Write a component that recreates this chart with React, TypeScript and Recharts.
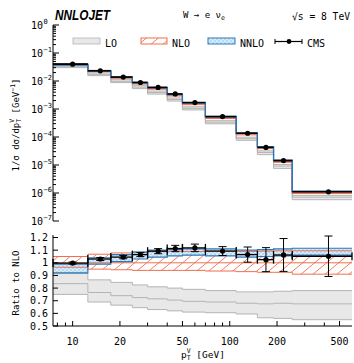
import React from "react";
import {
  ComposedChart,
  Area,
  Line,
  Scatter,
  ErrorBar,
  XAxis,
  YAxis,
} from "recharts";

const binEdges = [7.5, 12.5, 17.5, 24, 30, 40, 50, 70, 110, 150, 190, 250, 600];
const binCenters = [10, 15, 21, 27, 35, 45, 60, 90, 130, 170, 220, 425];

// NLO prediction, 1/σ dσ/dpT [GeV^-1]
const nloDist = [0.04, 0.0225, 0.0132, 0.0083, 0.0054, 0.0031, 0.00152, 0.00049, 0.000128, 0.0000415, 0.0000135, 1.05e-6];

// ratios to NLO
const loLow = [0.75, 0.69, 0.665, 0.645, 0.63, 0.62, 0.61, 0.605, 0.595, 0.565, 0.56, 0.55];
const loMid = [0.835, 0.765, 0.74, 0.725, 0.715, 0.705, 0.695, 0.69, 0.68, 0.675, 0.68, 0.675];
const loHigh = [0.915, 0.865, 0.845, 0.825, 0.81, 0.8, 0.79, 0.78, 0.77, 0.77, 0.775, 0.78];
const nloLow = [0.965, 0.95, 0.945, 0.94, 0.94, 0.94, 0.94, 0.935, 0.93, 0.925, 0.925, 0.91];
const nloHigh = [1.05, 1.068, 1.078, 1.085, 1.088, 1.09, 1.09, 1.09, 1.09, 1.092, 1.095, 1.095];
const nnloLow = [0.92, 0.99, 1.01, 1.03, 1.045, 1.055, 1.06, 1.055, 1.045, 1.05, 1.055, 1.06];
const nnloHigh = [0.99, 1.04, 1.065, 1.085, 1.1, 1.105, 1.11, 1.11, 1.1, 1.105, 1.11, 1.115];
const cmsRatio = [0.998, 1.03, 1.045, 1.065, 1.092, 1.113, 1.118, 1.093, 1.065, 1.025, 1.062, 1.052];
const cmsErr = [0.008, 0.012, 0.013, 0.016, 0.02, 0.025, 0.03, 0.035, 0.06, 0.095, 0.13, 0.16];

const xTicks = [8, 9, 10, 20, 30, 40, 50, 60, 70, 80, 90, 100, 200, 300, 400, 500];
const xLabels = [10, 20, 50, 100, 200, 500];
const yDecades = [1e-7, 1e-6, 1e-5, 1e-4, 1e-3, 1e-2, 1e-1, 1];
const ratioTicks = [0.5, 0.6, 0.7, 0.8, 0.9, 1, 1.1, 1.2];

const yLogTicks = yDecades.flatMap((d, i) =>
  i === yDecades.length - 1 ? [d] : [1, 2, 3, 4, 5, 6, 7, 8, 9].map((m) => m * d)
);

const MONO = "'DejaVu Sans Mono', monospace";
const ORANGE = "#ef6e4e";
const BLUE = "#2a78b8";
const GREY = "#b4b4b4";

const last = binCenters.length - 1;

const topRows = binEdges.map((x, i) => {
  const k = Math.min(i, last);
  const n = nloDist[k];
  return {
    x,
    loBand: [n * loLow[k], n * loHigh[k]],
    loLo: n * loLow[k],
    loMid: n * loMid[k],
    loHi: n * loHigh[k],
    nloBand: [n * nloLow[k], n * nloHigh[k]],
    nloLo: n * nloLow[k],
    nloMid: n,
    nloHi: n * nloHigh[k],
    nnloBand: [n * nnloLow[k], n * nnloHigh[k]],
    nnloLo: n * nnloLow[k],
    nnloHi: n * nnloHigh[k],
  };
});

const ratioRows = binEdges.map((x, i) => {
  const k = Math.min(i, last);
  return {
    x,
    loBand: [loLow[k], loHigh[k]],
    loLo: loLow[k],
    loMid: loMid[k],
    loHi: loHigh[k],
    nloBand: [nloLow[k], nloHigh[k]],
    nloLo: nloLow[k],
    nloMid: 1,
    nloHi: nloHigh[k],
    nnloBand: [nnloLow[k], nnloHigh[k]],
    nnloLo: nnloLow[k],
    nnloHi: nnloHigh[k],
  };
});

const topPoints = binCenters.map((c, i) => ({
  x: c,
  y: nloDist[i] * cmsRatio[i],
  xErr: [c - binEdges[i], binEdges[i + 1] - c],
}));

const ratioPoints = binCenters.map((c, i) => ({
  x: c,
  y: cmsRatio[i],
  yErr: cmsErr[i],
  xErr: [c - binEdges[i], binEdges[i + 1] - c],
}));

const isDecade = (v: number) => Math.abs(Math.log10(v) - Math.round(Math.log10(v))) < 1e-6;

function stepLine(key: string, color: string, w: number) {
  return (
    <Line
      key={key}
      xAxisId="b"
      yAxisId="l"
      dataKey={key}
      type="stepAfter"
      stroke={color}
      strokeWidth={w}
      dot={false}
      activeDot={false}
      isAnimationActive={false}
    />
  );
}

function bandArea(key: string, fill: string) {
  return (
    <Area
      key={key}
      xAxisId="b"
      yAxisId="l"
      dataKey={key}
      type="stepAfter"
      stroke="none"
      fill={fill}
      fillOpacity={1}
      dot={false}
      activeDot={false}
      isAnimationActive={false}
    />
  );
}

function series() {
  return [
    bandArea("loBand", "#e8e8e8"),
    stepLine("loLo", GREY, 1),
    stepLine("loMid", GREY, 1),
    stepLine("loHi", GREY, 1),
    bandArea("nloBand", "url(#hatchNLO)"),
    stepLine("nloLo", ORANGE, 1),
    stepLine("nloMid", ORANGE, 1),
    stepLine("nloHi", ORANGE, 1),
    bandArea("nnloBand", "url(#dotsNNLO)"),
    stepLine("nnloLo", BLUE, 1.2),
    stepLine("nnloHi", BLUE, 1.2),
  ];
}

const dot = (p: any) => <circle cx={p.cx} cy={p.cy} r={2.6} fill="#000" />;

// plot frames (pixel positions inside each chart svg)
const TOP = { l: 53, r: 352, t: 25, b: 221 };
const RAT = { l: 53, r: 352, t: 10, b: 101 };

const xTickBottom = (frame: typeof TOP, labels: boolean) => (p: any) => {
  const v = p.payload.value;
  const major = xLabels.includes(v);
  return (
    <g>
      <line x1={p.x} x2={p.x} y1={frame.b} y2={frame.b - (major ? 5 : 3.5)} stroke="#000" />
      {labels && major ? (
        <text x={p.x} y={frame.b + 19} textAnchor="middle" fontSize={10} fontFamily={MONO} fill="#000">
          {v}
        </text>
      ) : null}
    </g>
  );
};

const xTickTop = (frame: typeof TOP) => (p: any) => {
  const major = xLabels.includes(p.payload.value);
  return <line x1={p.x} x2={p.x} y1={frame.t} y2={frame.t + (major ? 5 : 3.5)} stroke="#000" />;
};

const logTickLeft = (p: any) => {
  const v = p.payload.value;
  const major = isDecade(v);
  const e = Math.round(Math.log10(v));
  return (
    <g>
      <line x1={TOP.l} x2={TOP.l + (major ? 6 : 3)} y1={p.y} y2={p.y} stroke="#000" />
      {major ? (
        <text x={43} y={p.y + 4} textAnchor="end" fontSize={10} fontFamily={MONO} fill="#000">
          10
        </text>
      ) : null}
      {major ? (
        <text x={43.5} y={p.y - 1} textAnchor="start" fontSize={7} fontFamily={MONO} fill="#000">
          {e === 0 ? "0" : "\u2212" + Math.abs(e)}
        </text>
      ) : null}
    </g>
  );
};

const logTickRight = (p: any) => {
  const major = isDecade(p.payload.value);
  return <line x1={TOP.r} x2={TOP.r - (major ? 6 : 3)} y1={p.y} y2={p.y} stroke="#000" />;
};

const ratioTickLeft = (p: any) => {
  const v = p.payload.value;
  return (
    <g>
      <line x1={RAT.l} x2={RAT.l + 5} y1={p.y} y2={p.y} stroke="#000" />
      <text x={48} y={p.y + 3.5} textAnchor="end" fontSize={10} fontFamily={MONO} fill="#000">
        {v === 1 ? "1" : v.toFixed(1)}
      </text>
    </g>
  );
};

const ratioTickRight = (p: any) => (
  <line x1={RAT.r} x2={RAT.r - 5} y1={p.y} y2={p.y} stroke="#000" />
);

export default function App() {
  return (
    <div style={{ position: "absolute", left: 0, top: 0, width: 354, height: 363, background: "#fff" }}>
      <div style={{ position: "absolute", left: 0, top: 0 }}>
        <ComposedChart width={354} height={232} data={topRows} margin={{ top: 25, right: 2, bottom: 11, left: 0 }}>
          <XAxis xAxisId="b" dataKey="x" type="number" scale="log" domain={[7.5, 600]} allowDataOverflow
            ticks={xTicks} interval={0} height={0} tickLine={false} tick={xTickBottom(TOP, false)} stroke="#000" />
          <XAxis xAxisId="t" orientation="top" dataKey="x" type="number" scale="log" domain={[7.5, 600]} allowDataOverflow
            ticks={xTicks} interval={0} height={0} tickLine={false} tick={xTickTop(TOP)} stroke="#000" />
          <YAxis yAxisId="l" type="number" scale="log" domain={[1e-7, 1]} allowDataOverflow
            ticks={yLogTicks} interval={0} width={53} tickLine={false} tick={logTickLeft} stroke="#000" />
          <YAxis yAxisId="r" orientation="right" type="number" scale="log" domain={[1e-7, 1]} allowDataOverflow
            ticks={yLogTicks} interval={0} width={0} tickLine={false} tick={logTickRight} stroke="#000" />
          {series()}
          <Scatter xAxisId="b" yAxisId="l" data={topPoints} dataKey="y" shape={dot} isAnimationActive={false}>
            <ErrorBar dataKey="xErr" direction="x" width={0} stroke="#000" strokeWidth={1.6} isAnimationActive={false} />
          </Scatter>
        </ComposedChart>
      </div>
      <div style={{ position: "absolute", left: 0, top: 225 }}>
        <ComposedChart width={354} height={138} data={ratioRows} margin={{ top: 10, right: 2, bottom: 7, left: 0 }}>
          <XAxis xAxisId="b" dataKey="x" type="number" scale="log" domain={[7.5, 600]} allowDataOverflow
            ticks={xTicks} interval={0} height={30} tickLine={false} tick={xTickBottom(RAT, true)} stroke="#000" />
          <XAxis xAxisId="t" orientation="top" dataKey="x" type="number" scale="log" domain={[7.5, 600]} allowDataOverflow
            ticks={xTicks} interval={0} height={0} tickLine={false} tick={xTickTop(RAT)} stroke="#000" />
          <YAxis yAxisId="l" type="number" domain={[0.5, 1.22]} allowDataOverflow
            ticks={ratioTicks} interval={0} width={53} tickLine={false} tick={ratioTickLeft} stroke="#000" />
          <YAxis yAxisId="r" orientation="right" type="number" domain={[0.5, 1.22]} allowDataOverflow
            ticks={ratioTicks} interval={0} width={0} tickLine={false} tick={ratioTickRight} stroke="#000" />
          {series()}
          <Scatter xAxisId="b" yAxisId="l" data={ratioPoints} dataKey="y" shape={dot} isAnimationActive={false}>
            <ErrorBar dataKey="xErr" direction="x" width={4} stroke="#000" strokeWidth={1.3} isAnimationActive={false} />
            <ErrorBar dataKey="yErr" direction="y" width={4} stroke="#000" strokeWidth={1} isAnimationActive={false} />
          </Scatter>
        </ComposedChart>
      </div>
      <svg width={354} height={363} style={{ position: "absolute", left: 0, top: 0, pointerEvents: "none" }}>
        <defs>
          <pattern id="hatchNLO" patternUnits="userSpaceOnUse" width={12} height={10}>
            <rect width={12} height={10} fill="#fff" />
            <path d="M0,10 L12,0" stroke={ORANGE} strokeWidth={0.9} />
          </pattern>
          <pattern id="dotsNNLO" patternUnits="userSpaceOnUse" width={4} height={4}>
            <rect width={4} height={4} fill="#b7daf3" />
            <circle cx={1} cy={1} r={0.85} fill="#fff" />
            <circle cx={3} cy={3} r={0.85} fill="#fff" />
          </pattern>
        </defs>
        {/* header */}
        <text x={55} y={20} fontFamily="'Liberation Sans', Arial, sans-serif" fontWeight="bold" fontStyle="italic"
          fontSize={15} textLength={55} lengthAdjust="spacingAndGlyphs" fill="#000">NNLOJET</text>
        <text x={183} y={18} fontFamily={MONO} fontSize={9} fill="#000">
          W → e ν<tspan dy={2} fontSize={6.5}>e</tspan>
        </text>
        <text x={292} y={20} fontFamily={MONO} fontSize={10} textLength={58} lengthAdjust="spacingAndGlyphs" fill="#000">
          √s = 8 TeV
        </text>
        {/* legend */}
        <rect x={73} y={38} width={27} height={6} fill="#e8e8e8" stroke={GREY} strokeWidth={0.8} />
        <text x={105} y={47} fontFamily={MONO} fontSize={10} fill="#000">LO</text>
        <rect x={141} y={38} width={26} height={6} fill="url(#hatchNLO)" stroke={ORANGE} strokeWidth={1} />
        <text x={172} y={47} fontFamily={MONO} fontSize={10} fill="#000">NLO</text>
        <rect x={208} y={38} width={27} height={6} fill="url(#dotsNNLO)" stroke={BLUE} strokeWidth={1} />
        <text x={240} y={47} fontFamily={MONO} fontSize={10} fill="#000">NNLO</text>
        <line x1={275} x2={302} y1={41.5} y2={41.5} stroke="#000" strokeWidth={1.2} />
        <line x1={275} x2={275} y1={39} y2={44} stroke="#000" />
        <line x1={302} x2={302} y1={39} y2={44} stroke="#000" />
        <circle cx={289} cy={41.5} r={2.4} fill="#000" />
        <text x={307} y={47} fontFamily={MONO} fontSize={10} fill="#000">CMS</text>
        {/* axis titles */}
        <text transform="translate(19,125) rotate(-90)" textAnchor="middle" fontFamily={MONO} fontSize={9} fill="#000">
          1/σ dσ/dp<tspan dy={2} fontSize={6.5}>T</tspan>
          <tspan dx={-4} dy={-7} fontSize={6.5}>V</tspan>
          <tspan dy={5}> [GeV</tspan>
          <tspan dy={-4} fontSize={6.5}>−1</tspan>
          <tspan dy={4}>]</tspan>
        </text>
        <text transform="translate(19,283) rotate(-90)" textAnchor="middle" fontFamily={MONO} fontSize={9} fill="#000">
          Ratio to NLO
        </text>
        <text x={203} y={358} textAnchor="middle" fontFamily={MONO} fontSize={9.5} fill="#000">
          p<tspan dy={2} fontSize={6.5}>T</tspan>
          <tspan dx={-4} dy={-7} fontSize={6.5}>V</tspan>
          <tspan dy={5}> [GeV]</tspan>
        </text>
      </svg>
    </div>
  );
}
